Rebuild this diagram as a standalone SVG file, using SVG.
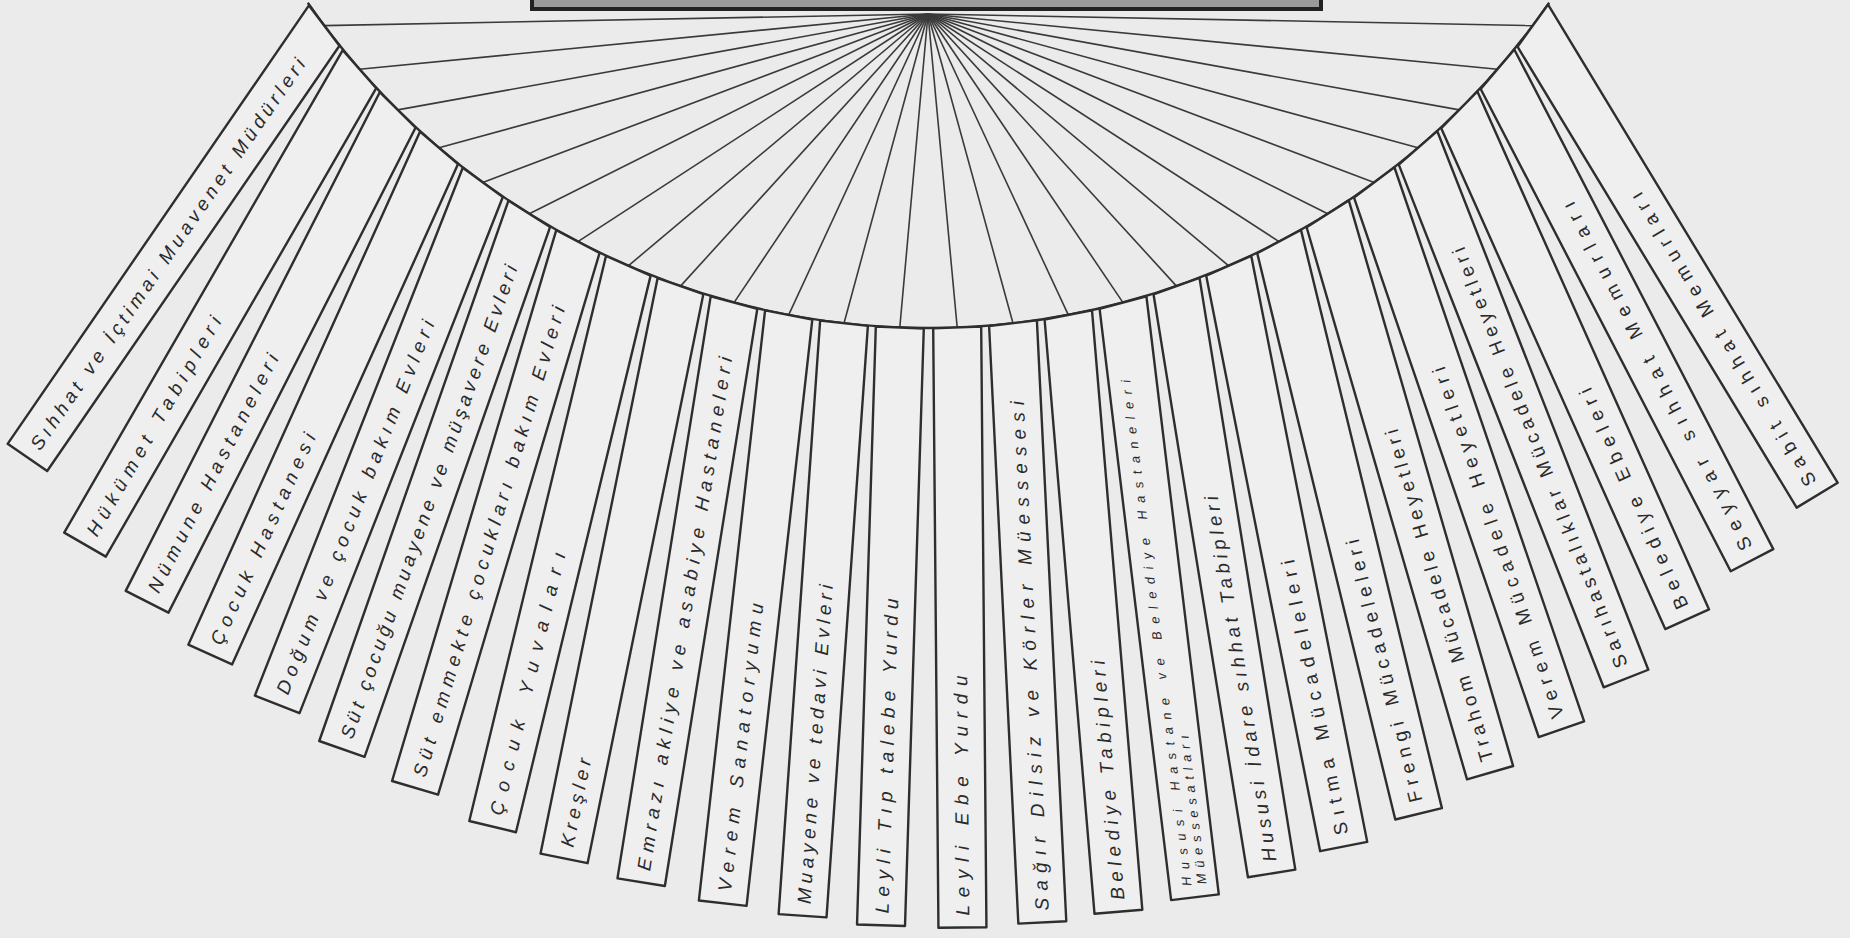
<svg xmlns="http://www.w3.org/2000/svg" width="1850" height="938" viewBox="0 0 1850 938">
<style>
.bg{fill:#ebebeb}
.panel{fill:#efefef;stroke:#2e2e2e;stroke-width:2.4;stroke-linejoin:round}
.ray{stroke:#3a3a3a;stroke-width:1.6;fill:none}
.arc{stroke:#2e2e2e;stroke-width:2.4;fill:none}
.lbl{font-family:"Liberation Sans",Arial,sans-serif;font-size:19px;font-style:italic;fill:#2a2a2a}
.up{font-style:normal}
.sm{font-size:13px}
.hub{fill:#9a9a9a;stroke:#222;stroke-width:4}
</style>
<rect class="bg" x="0" y="0" width="1850" height="938"/>
<g id="hub"><rect class="hub" x="532" y="-8" width="789" height="17"/></g>
<g id="connectors">
<line class="ray" x1="928" y1="14" x2="324.2" y2="25.6"/>
<line class="ray" x1="928" y1="14" x2="359.5" y2="69.2"/>
<line class="ray" x1="928" y1="14" x2="397.7" y2="109.9"/>
<line class="ray" x1="928" y1="14" x2="439.0" y2="147.8"/>
<line class="ray" x1="928" y1="14" x2="482.8" y2="182.4"/>
<line class="ray" x1="928" y1="14" x2="529.3" y2="213.8"/>
<line class="ray" x1="928" y1="14" x2="577.9" y2="241.6"/>
<line class="ray" x1="928" y1="14" x2="628.3" y2="265.8"/>
<line class="ray" x1="928" y1="14" x2="680.5" y2="286.1"/>
<line class="ray" x1="928" y1="14" x2="734.0" y2="302.6"/>
<line class="ray" x1="928" y1="14" x2="788.7" y2="314.9"/>
<line class="ray" x1="928" y1="14" x2="844.0" y2="323.2"/>
<line class="ray" x1="928" y1="14" x2="899.8" y2="327.5"/>
<line class="ray" x1="928" y1="14" x2="957.2" y2="327.5"/>
<line class="ray" x1="928" y1="14" x2="1013.0" y2="323.2"/>
<line class="ray" x1="928" y1="14" x2="1068.3" y2="314.9"/>
<line class="ray" x1="928" y1="14" x2="1123.0" y2="302.6"/>
<line class="ray" x1="928" y1="14" x2="1176.5" y2="286.1"/>
<line class="ray" x1="928" y1="14" x2="1228.7" y2="265.8"/>
<line class="ray" x1="928" y1="14" x2="1279.1" y2="241.6"/>
<line class="ray" x1="928" y1="14" x2="1327.7" y2="213.8"/>
<line class="ray" x1="928" y1="14" x2="1374.2" y2="182.4"/>
<line class="ray" x1="928" y1="14" x2="1418.0" y2="147.8"/>
<line class="ray" x1="928" y1="14" x2="1459.3" y2="109.9"/>
<line class="ray" x1="928" y1="14" x2="1497.5" y2="69.2"/>
<line class="ray" x1="928" y1="14" x2="1532.8" y2="25.6"/>
<path class="arc" d="M 307.8 2.8 A 755 755 0 0 0 1549.2 2.8"/>
</g>
<g id="p01" transform="translate(324.2,25.6) rotate(34.5)"><polygon class="panel" points="-24,-8 24,8 24,524 -24,524"/><text class="lbl" transform="translate(7,512) rotate(-90)" textLength="470" lengthAdjust="spacing">Sıhhat ve İçtimai Muavenet Müdürleri</text></g>
<g id="p02" transform="translate(359.5,69.2) rotate(30)"><polygon class="panel" points="-24,-8.1 24,8.1 24,549 -24,549"/><text class="lbl" transform="translate(7,537) rotate(-90)" textLength="250" lengthAdjust="spacing">Hükümet Tabipleri</text></g>
<g id="p03" transform="translate(397.7,109.9) rotate(27)"><polygon class="panel" points="-24,-7.6 24,7.6 24,552 -24,552"/><text class="lbl" transform="translate(7,540) rotate(-90)" textLength="265" lengthAdjust="spacing">Nümune Hastaneleri</text></g>
<g id="p04" transform="translate(439,147.8) rotate(24.3)"><polygon class="panel" points="-24,-6.9 24,6.9 24,556 -24,556"/><text class="lbl" transform="translate(7,544) rotate(-90)" textLength="230" lengthAdjust="spacing">Çocuk Hastanesi</text></g>
<g id="p05" transform="translate(482.8,182.4) rotate(21.5)"><polygon class="panel" points="-24,-6.3 24,6.3 24,561 -24,561"/><text class="lbl" transform="translate(7,549) rotate(-90)" textLength="400" lengthAdjust="spacing">Doğum ve çocuk bakım Evleri</text></g>
<g id="p06" transform="translate(529.3,213.8) rotate(19.3)"><polygon class="panel" points="-24,-5.5 24,5.5 24,567 -24,567"/><text class="lbl" transform="translate(7,555) rotate(-90)" textLength="500" lengthAdjust="spacing">Süt çocuğu muayene ve müşavere Evleri</text></g>
<g id="p07" transform="translate(577.9,241.6) rotate(16.6)"><polygon class="panel" points="-24,-4.8 24,4.8 24,570 -24,570"/><text class="lbl" transform="translate(7,558) rotate(-90)" textLength="490" lengthAdjust="spacing">Süt emmekte çocukları bakım Evleri</text></g>
<g id="p08" transform="translate(628.3,265.8) rotate(13.6)"><polygon class="panel" points="-24,-4.3 24,4.3 24,577 -24,577"/><text class="lbl" transform="translate(7,565) rotate(-90)" textLength="270" lengthAdjust="spacing">Çocuk Yuvaları</text></g>
<g id="p09" transform="translate(680.5,286.1) rotate(11.5)"><polygon class="panel" points="-24,-3.3 24,3.3 24,584 -24,584"/><text class="lbl" transform="translate(7,572) rotate(-90)" textLength="90" lengthAdjust="spacing">Kreşler</text></g>
<g id="p10" transform="translate(734,302.6) rotate(9.1)"><polygon class="panel" points="-24,-2.5 24,2.5 24,587 -24,587"/><text class="lbl" transform="translate(7,575) rotate(-90)" textLength="520" lengthAdjust="spacing">Emrazı akliye ve asabiye Hastaneleri</text></g>
<g id="p11" transform="translate(788.7,314.9) rotate(6.4)"><polygon class="panel" points="-24,-1.9 24,1.9 24,592 -24,592"/><text class="lbl" transform="translate(7,580) rotate(-90)" textLength="290" lengthAdjust="spacing">Verem Sanatoryumu</text></g>
<g id="p12" transform="translate(844,323.2) rotate(4)"><polygon class="panel" points="-24,-1 24,1 24,594 -24,594"/><text class="lbl" transform="translate(7,582) rotate(-90)" textLength="320" lengthAdjust="spacing">Muayene ve tedavi Evleri</text></g>
<g id="p13" transform="translate(899.8,327.5) rotate(1.8)"><polygon class="panel" points="-24,-0.2 24,0.2 24,598 -24,598"/><text class="lbl" transform="translate(7,586) rotate(-90)" textLength="315" lengthAdjust="spacing">Leyli Tıp talebe Yurdu</text></g>
<g id="p14" transform="translate(957.2,327.5) rotate(-0.5)"><polygon class="panel" points="-24,0.7 24,-0.7 24,600 -24,600"/><text class="lbl" transform="translate(7,588) rotate(-90)" textLength="240" lengthAdjust="spacing">Leyli Ebe Yurdu</text></g>
<g id="p15" transform="translate(1013,323.2) rotate(-2.8)"><polygon class="panel" points="-24,1.6 24,-1.6 24,600 -24,600"/><text class="lbl" transform="translate(7,588) rotate(-90)" textLength="510" lengthAdjust="spacing">Sağır Dilsiz ve Körler Müessesesi</text></g>
<g id="p16" transform="translate(1068.3,314.9) rotate(-4.8)"><polygon class="panel" points="-24,2.6 24,-2.6 24,599 -24,599"/><text class="lbl" transform="translate(7,587) rotate(-90)" textLength="240" lengthAdjust="spacing">Belediye Tabipleri</text></g>
<g id="p17" transform="translate(1123,302.6) rotate(-6.9)"><polygon class="panel" points="-24,3.5 24,-3.5 24,599 -24,599"/><text class="lbl sm" transform="translate(-2,587) rotate(-90)" textLength="510" lengthAdjust="spacing">Hususi Hastane ve Belediye Hastaneleri</text><text class="lbl sm" transform="translate(13,587) rotate(-90)" textLength="150" lengthAdjust="spacing">Müessesatları</text></g>
<g id="p18" transform="translate(1176.5,286.1) rotate(-9.2)"><polygon class="panel" points="-24,4.4 24,-4.4 24,595 -24,595"/><text class="lbl" transform="translate(7,583) rotate(-90)" textLength="370" lengthAdjust="spacing">Hususi İdare sıhhat Tabipleri</text></g>
<g id="p19" transform="translate(1228.7,265.8) rotate(-11.2)"><polygon class="panel" points="-24,5.4 24,-5.4 24,592 -24,592"/><text class="lbl up" transform="translate(7,580) rotate(-90)" textLength="280" lengthAdjust="spacing">Sıtma Mücadeleleri</text></g>
<g id="p20" transform="translate(1279.1,241.6) rotate(-13.7)"><polygon class="panel" points="-24,6.2 24,-6.2 24,589 -24,589"/><text class="lbl up" transform="translate(7,577) rotate(-90)" textLength="270" lengthAdjust="spacing">Frengi Mücadeleleri</text></g>
<g id="p21" transform="translate(1327.7,213.8) rotate(-16.2)"><polygon class="panel" points="-24,7 24,-7 24,582 -24,582"/><text class="lbl up" transform="translate(7,570) rotate(-90)" textLength="345" lengthAdjust="spacing">Trahom Mücadele Heyetleri</text></g>
<g id="p22" transform="translate(1374.2,182.4) rotate(-18.9)"><polygon class="panel" points="-24,7.8 24,-7.8 24,578 -24,578"/><text class="lbl up" transform="translate(7,566) rotate(-90)" textLength="370" lengthAdjust="spacing">Verem Mücadele Heyetleri</text></g>
<g id="p23" transform="translate(1418,147.8) rotate(-21.4)"><polygon class="panel" points="-24,8.6 24,-8.6 24,570 -24,570"/><text class="lbl up" transform="translate(7,558) rotate(-90)" textLength="450" lengthAdjust="spacing">Sarıhastalıklar Mücadele Heyetleri</text></g>
<g id="p24" transform="translate(1459.3,109.9) rotate(-24.1)"><polygon class="panel" points="-24,9.4 24,-9.4 24,558 -24,558"/><text class="lbl up" transform="translate(7,546) rotate(-90)" textLength="240" lengthAdjust="spacing">Belediye Ebeleri</text></g>
<g id="p25" transform="translate(1497.5,69.2) rotate(-27.4)"><polygon class="panel" points="-24,9.8 24,-9.8 24,553 -24,553"/><text class="lbl up" transform="translate(7,541) rotate(-90)" textLength="390" lengthAdjust="spacing">Seyyar sıhhat Memurları</text></g>
<g id="p26" transform="translate(1532.8,25.6) rotate(-31.2)"><polygon class="panel" points="-24,10.1 24,-10.1 24,549 -24,549"/><text class="lbl up" transform="translate(7,537) rotate(-90)" textLength="340" lengthAdjust="spacing">Sabit sıhhat Memurları</text></g>
</svg>
